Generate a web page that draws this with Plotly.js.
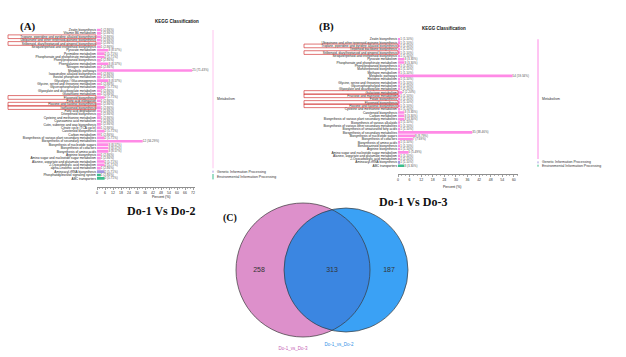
<!DOCTYPE html>
<html><head><meta charset="utf-8">
<script src="https://cdn.plot.ly/plotly-3.0.1.min.js"></script>
<style>html,body{margin:0;padding:0;background:#fff}#chart{width:626px;height:357px}</style>
</head><body><div id="chart"></div>
<script>
// ---------- Panel A: Do-1 Vs Do-2 ----------
const catsA = [
 "Zeatin biosynthesis","Vitamin B6 metabolism","Tropane, piperidine and pyridine alkaloid biosynthesis",
 "Ubiquinone and other terpenoid-quinone biosynthesis","Stilbenoid, diarylheptanoid and gingerol biosynthesis",
 "Sesquiterpenoid and triterpenoid biosynthesis","Pyruvate metabolism","Pyrimidine metabolism",
 "Phosphonate and phosphinate metabolism","Phenylpropanoid biosynthesis","Phenylalanine metabolism",
 "Nitrogen metabolism","Metabolic pathways","Isoquinoline alkaloid biosynthesis","Inositol phosphate metabolism",
 "Glycolysis / Gluconeogenesis","Glycine, serine and threonine metabolism","Glycerophospholipid metabolism",
 "Glyoxylate and dicarboxylate metabolism","Glutathione metabolism","Flavonoid biosynthesis",
 "Fatty acid elongation","Flavone and flavonol biosynthesis","Isoflavonoid biosynthesis",
 "Fatty acid degradation","Diterpenoid biosynthesis","Cysteine and methionine metabolism",
 "Cyanoamino acid metabolism","Cutin, suberine and wax biosynthesis","Citrate cycle (TCA cycle)",
 "Carotenoid biosynthesis","Carbon metabolism","Biosynthesis of various plant secondary metabolites",
 "Biosynthesis of secondary metabolites","Biosynthesis of nucleotide sugars","Biosynthesis of cofactors",
 "Biosynthesis of amino acids","Arginine biosynthesis","Amino sugar and nucleotide sugar metabolism",
 "Alanine, aspartate and glutamate metabolism","2-Oxocarboxylic acid metabolism","alpha-Linolenic acid metabolism",
 "Aminoacyl-tRNA biosynthesis","Phosphatidylinositol signaling system","ABC transporters"];
const countsA = [1,1,1,1,1,1,3,2,2,1,3,1,25,1,1,3,1,2,1,1,2,1,1,1,1,1,1,1,1,1,2,1,2,12,3,3,3,1,1,2,2,1,2,1,2];
const classA = Array(42).fill("M").concat(["G","E","E"]);
const totalA = 35;
const boxedA = [2,4,20,22,23];

// ---------- Panel B: Do-1 Vs Do-3 ----------
const catsB = [
 "Zeatin biosynthesis","Ubiquinone and other terpenoid-quinone biosynthesis","Tropane, piperidine and pyridine alkaloid biosynthesis",
 "Terpenoid backbone biosynthesis","Stilbenoid, diarylheptanoid and gingerol biosynthesis","Sesquiterpenoid and triterpenoid biosynthesis",
 "Pyruvate metabolism","Phosphonate and phosphinate metabolism","Phenylpropanoid biosynthesis","Monoterpenoid biosynthesis",
 "Methane metabolism","Metabolic pathways","Histidine metabolism","Glycine, serine and threonine metabolism",
 "Glycerophospholipid metabolism","Glyoxylate and dicarboxylate metabolism","Galactose metabolism",
 "Fructose and mannose metabolism","Folate biosynthesis","Flavonoid biosynthesis","Flavone and flavonol biosynthesis",
 "Cysteine and methionine metabolism","Carotenoid biosynthesis","Carbon metabolism",
 "Biosynthesis of various plant secondary metabolites","Biosynthesis of various alkaloids",
 "Biosynthesis of various other secondary metabolites","Biosynthesis of unsaturated fatty acids",
 "Biosynthesis of secondary metabolites","Biosynthesis of nucleotide sugars","Biosynthesis of cofactors",
 "Biosynthesis of amino acids","Benzoxazinoid biosynthesis","Arginine biosynthesis",
 "Amino sugar and nucleotide sugar metabolism","Alanine, aspartate and glutamate metabolism",
 "2-Oxocarboxylic acid metabolism","Aminoacyl-tRNA biosynthesis","ABC transporters"];
const countsB = [1,1,1,1,1,1,3,3,1,1,1,54,1,1,1,1,2,1,1,1,1,1,3,3,3,1,1,1,35,8,7,1,1,1,5,1,1,1,3];
const classB = Array(37).fill("M").concat(["G","E"]);
const totalB = 91;
const boxedB = [2,4,16,17,19,20];

// ---------- Panel C: Venn ----------
const vennSets = ["Do-1_vs_Do-3","Do-1_vs_Do-2"];
const vennCounts = [258, 313, 187];

const W = 626, H = 357;
const px = x => x / W, py = y => 1 - y / H;
const COL = {M:"#ff8ae6", G:"#a497e0", E:"#3dbd8d"};
const FONT = "Liberation Sans, Arial, sans-serif";
const SERIF = "Liberation Serif, Times New Roman, serif";

function barTrace(cats, counts, cls, total, xa, ya) {
  const pct = counts.map(c => +(c / total * 100).toFixed(2));
  return {
    type: "bar", orientation: "h", y: cats, x: pct, xaxis: xa, yaxis: ya,
    marker: {color: cls.map(c => COL[c]), line: {width: 0}},
    text: counts.map((c, i) => c + " (" + pct[i].toFixed(2) + "%)"),
    textposition: "outside", textfont: {size: 3, family: FONT, color: "#555"},
    constraintext: "none", cliponaxis: false, hoverinfo: "skip"
  };
}

const traces = [
  barTrace(catsA, countsA, classA, totalA, "x", "y"),
  barTrace(catsB, countsB, classB, totalB, "x2", "y2")
];

// Venn geometry (pixel space on x3/y3)
const cL = {x: 303, y: 270, r: 67}, cR = {x: 346, y: 270, r: 62};
function circlePts(c, a0, a1, n) {
  const pts = [];
  for (let i = 0; i <= n; i++) { const a = a0 + (a1 - a0) * i / n; pts.push([c.x + c.r * Math.cos(a), c.y + c.r * Math.sin(a)]); }
  return pts;
}
const d = cR.x - cL.x;
const ix = (d * d - cR.r * cR.r + cL.r * cL.r) / (2 * d);
const iy = Math.sqrt(cL.r * cL.r - ix * ix);
const aL = Math.atan2(iy, ix);
const aR = Math.atan2(iy, ix - d);
const lens = circlePts(cL, -aL, aL, 60).concat(circlePts(cR, aR, 2 * Math.PI - aR, 60));
const lensPath = "M" + lens.map(p => p[0].toFixed(2) + "," + p[1].toFixed(2)).join("L") + "Z";

traces.push({
  type: "scatter", mode: "text", xaxis: "x3", yaxis: "y3",
  x: [cL.x - 44, (ix + cL.x), cR.x + 43], y: [cL.y, cL.y, cL.y],
  text: vennCounts.map(String), textfont: {size: 7, family: FONT, color: "#333"}, hoverinfo: "skip"
});
traces.push({
  type: "scatter", mode: "text", xaxis: "x3", yaxis: "y3",
  x: [293, 339], y: [349, 345], text: vennSets,
  textfont: {size: 4.5, family: FONT, color: ["#c45cb3", "#2f8fe6"]}, hoverinfo: "skip"
});

const shapes = [];
shapes.push({type: "circle", xref: "x3", yref: "y3", x0: cL.x - cL.r, x1: cL.x + cL.r, y0: cL.y - cL.r, y1: cL.y + cL.r, fillcolor: "#dd90cb", line: {width: 0}, layer: "below"});
shapes.push({type: "circle", xref: "x3", yref: "y3", x0: cR.x - cR.r, x1: cR.x + cR.r, y0: cR.y - cR.r, y1: cR.y + cR.r, fillcolor: "#3aa1f5", line: {width: 0}, layer: "below"});
shapes.push({type: "path", xref: "x3", yref: "y3", path: lensPath, fillcolor: "#3b86e1", line: {width: 0}, layer: "below"});
[cL, cR].forEach(c => shapes.push({type: "circle", xref: "x3", yref: "y3", x0: c.x - c.r, x1: c.x + c.r, y0: c.y - c.r, y1: c.y + c.r, line: {color: "#3a3a3a", width: 0.7}, layer: "below"}));

boxedA.forEach(i => shapes.push({type: "rect", xref: "paper", yref: "y", x0: px(8), x1: px(96), y0: i - 0.55, y1: i + 0.55, line: {color: "#d23a3a", width: 0.7}}));
boxedB.forEach(i => shapes.push({type: "rect", xref: "paper", yref: "y2", x0: px(304), x1: px(398), y0: i - 0.55, y1: i + 0.55, line: {color: "#d23a3a", width: 0.7}}));

function bracket(cls, xa, ya, xpx, lineColor, ann) {
  const lastM = cls.lastIndexOf("M");
  shapes.push({type: "line", xref: "paper", yref: ya, x0: px(xpx), x1: px(xpx), y0: 0, y1: lastM, line: {color: lineColor, width: 1}});
  ann.push({xref: "paper", yref: ya, x: px(xpx + 2), y: lastM / 2, text: "Metabolism", showarrow: false, xanchor: "left", font: {size: 3.5, family: FONT, color: "#333"}});
  const gi = cls.indexOf("G"), ei = cls.indexOf("E"), el = cls.lastIndexOf("E");
  shapes.push({type: "line", xref: "paper", yref: ya, x0: px(xpx), x1: px(xpx), y0: gi - 0.3, y1: gi + 0.3, line: {color: COL.G, width: 1}});
  shapes.push({type: "line", xref: "paper", yref: ya, x0: px(xpx), x1: px(xpx), y0: ei - 0.3, y1: el + 0.3, line: {color: COL.E, width: 1}});
  ann.push({xref: "paper", yref: ya, x: px(xpx + 2), y: gi, text: "Genetic Information Processing", showarrow: false, xanchor: "left", font: {size: 3.5, family: FONT, color: "#333"}});
  ann.push({xref: "paper", yref: ya, x: px(xpx + 2), y: (ei + el) / 2, text: "Environmental Information Processing", showarrow: false, xanchor: "left", font: {size: 3.5, family: FONT, color: "#333"}});
}
const annotations = [];
bracket(classA, "x", "y", 213, "#ffc4ef", annotations);
bracket(classB, "x2", "y2", 538, "#ff8ae6", annotations);

function A(x, y, text, size, family, extra) {
  annotations.push(Object.assign({xref: "paper", yref: "paper", x: px(x), y: py(y), text, showarrow: false, font: {size, family, color: "#111"}}, extra || {}));
}
A(18, 18, "<b>(A)</b>", 11, SERIF);
A(326, 18, "<b>(B)</b>", 11, SERIF);
A(230, 218, "<b>(C)</b>", 10, SERIF);
A(153, 17, "<b>KEGG Classification</b>", 4.5, FONT);
A(468, 24, "<b>KEGG Classification</b>", 4.5, FONT);
A(150, 197, "Percent (%)", 3.5, FONT);
A(463, 187, "Percent (%)", 3.5, FONT);
A(125, 211, "<b>Do-1 Vs Do-2</b>", 12, SERIF);
A(449, 202, "<b>Do-1 Vs Do-3</b>", 12, SERIF);

const axX = (d0, d1, rmax, anchor) => ({
  domain: [px(d0), px(d1)], range: [0, rmax], anchor, showline: true, linecolor: "#444", linewidth: 0.6,
  ticks: "outside", ticklen: 2, tickwidth: 0.5, tickcolor: "#444", tick0: 0, dtick: 6,
  minor: {ticks: "outside", dtick: 2, ticklen: 1.2, tickwidth: 0.4, tickcolor: "#444"},
  tickfont: {size: 3.5, family: FONT, color: "#333"}, showgrid: false, zeroline: false, fixedrange: true
});
const axY = (top, bottom, extra, cats, anchor) => ({
  type: "category", domain: [py(bottom), py(top)], range: [cats.length - 1 + extra, -0.5], anchor,
  tickmode: "array", tickvals: cats, ticktext: cats, ticks: "", showline: false, showgrid: false, zeroline: false,
  tickfont: {size: 3.2, family: FONT, color: "#222"}, fixedrange: true
});

const layout = {
  width: W, height: H, margin: {l: 0, r: 0, t: 0, b: 0}, paper_bgcolor: "#fff", plot_bgcolor: "rgba(0,0,0,0)",
  showlegend: false, bargap: 0.22, font: {family: FONT},
  xaxis: axX(97, 195, 73.5, "y"),
  yaxis: axY(28.3, 187, 2.55, catsA, "x"),
  xaxis2: axX(398, 517.7, 62, "y2"),
  yaxis2: axY(37.6, 174.5, 2.65, catsB, "x2"),
  xaxis3: {domain: [0, 1], range: [0, W], visible: false, fixedrange: true, anchor: "y3"},
  yaxis3: {domain: [0, 1], range: [H, 0], visible: false, fixedrange: true, anchor: "x3"},
  shapes, annotations
};

Plotly.newPlot("chart", traces, layout, {staticPlot: true, displayModeBar: false});
</script></body></html>
